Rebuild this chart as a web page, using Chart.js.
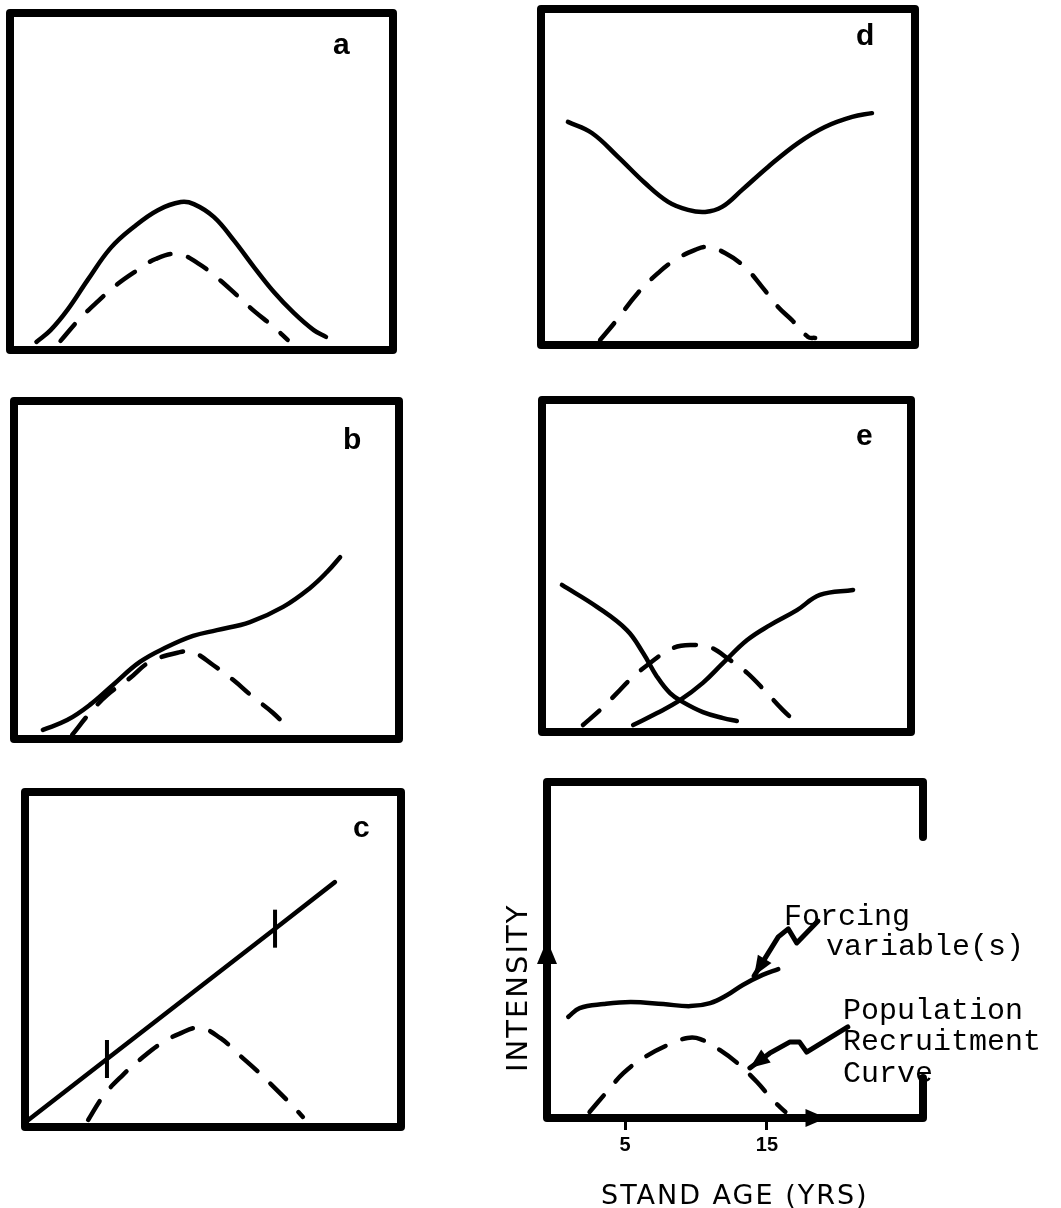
<!DOCTYPE html>
<html>
<head>
<meta charset="utf-8">
<title>Forcing variables vs. population recruitment</title>
<script src="https://cdn.jsdelivr.net/npm/chart.js@4.4.0/dist/chart.umd.min.js"></script>
<style>
  html, body { margin: 0; padding: 0; background: #fff; }
  body { width: 1061px; height: 1208px; position: relative; overflow: hidden; }
  canvas { position: absolute; }
  .lbl { position: absolute; line-height: 1; white-space: nowrap; color: #000; z-index: 2; }
  .letter { font: bold 30px "Liberation Sans", Arial, sans-serif; }
  .note { font: 30px "Liberation Mono", monospace; }
  .axis-title { font: 27px "DejaVu Sans", sans-serif; letter-spacing: 2px; }
  .rot { font-size: 29px; transform-origin: 0 0; transform: rotate(-90deg); }
</style>
</head>
<body>

<div class="lbl letter" style="left:333px; top:27px;">a</div>
<div class="lbl letter" style="left:343px; top:422px;">b</div>
<div class="lbl letter" style="left:353px; top:810px;">c</div>
<div class="lbl letter" style="left:856px; top:18px;">d</div>
<div class="lbl letter" style="left:856px; top:418px;">e</div>

<div class="lbl note" style="left:784px; top:900px;">Forcing</div>
<div class="lbl note" style="left:826px; top:930px;">variable(s)</div>
<div class="lbl note" style="left:843px; top:994px;">Population</div>
<div class="lbl note" style="left:843px; top:1025px;">Recruitment</div>
<div class="lbl note" style="left:843px; top:1057px;">Curve</div>

<div class="lbl axis-title" style="left:601px; top:1179px;">STAND AGE (YRS)</div>
<div class="lbl axis-title rot" style="left:500px; top:1072px;">INTENSITY</div>

<script>
// --- data (x and y as % of each panel box; key panel x in years) ---

// a: forcing peaks together with recruitment
const aSolidX = [6.9, 10.6, 15.0, 20.3, 26.3, 32.3, 38.6, 44.6, 48.0, 53.2, 58.4, 63.7, 68.9, 74.1, 79.3, 82.5];
const aSolidY = [2.4, 5.9, 11.9, 20.8, 30.3, 36.5, 41.5, 43.9, 43.3, 39.5, 32.6, 24.6, 17.2, 11.0, 5.9, 3.9];
const aDashX = [13.2, 18, 23, 28, 33, 38, 43.8, 49, 54, 59, 64, 68.5, 72.5];
const aDashY = [2.7, 9, 14.5, 19.5, 23.5, 27, 28.5, 25.8, 21.5, 16.5, 11.3, 7.2, 3.0];

// b: forcing keeps rising after the peak
const bSolidX = [7.5, 13.8, 19.7, 25.7, 32.7, 39.7, 46.5, 52.7, 61.3, 69.9, 76.9, 81.3, 84.7];
const bSolidY = [2.7, 5.6, 10.1, 16.0, 22.8, 27.2, 30.5, 32.2, 34.6, 39.1, 44.7, 49.4, 53.8];
const bDashX = [15.1, 19.7, 24.2, 30.1, 35.3, 43.1, 46.5, 51.7, 56.9, 62.1, 67.3, 72.2];
const bDashY = [1.2, 7.7, 13.0, 18.0, 22.8, 25.7, 25.7, 21.9, 17.5, 12.4, 7.7, 2.1];

// c: linear forcing with two thresholds
const cLineX = [0.8, 21.8, 66.5, 82.4];
const cLineY = [2.0, 20.3, 59.2, 73.1];
const cMarkX = [21.8, 66.5];
const cDashX = [16.8, 21, 26, 31, 36, 41, 46.5, 52, 57, 62, 67, 71, 73.9];
const cDashY = [2.1, 9.5, 15.5, 20.5, 24.8, 27.8, 29.6, 26.5, 21.5, 16.5, 11, 6.5, 3.0];

// d: forcing dips while recruitment peaks
const dSolidX = [7.2, 13.6, 20.6, 27.8, 34.0, 39.3, 43.9, 48.4, 53.7, 60.7, 68.7, 75.9, 83.2, 88.5];
const dSolidY = [66.4, 63.1, 56.0, 48.2, 42.6, 40.2, 39.6, 41.1, 46.1, 53.0, 60.1, 64.9, 67.9, 69.0];
const dDashX = [15.8, 19.8, 25.9, 31.3, 35.8, 41.2, 44.4, 49.2, 54.5, 59.1, 63.4, 67.1, 71.4, 73.3];
const dDashY = [1.5, 6.8, 15.5, 21.4, 25.3, 28.3, 29.2, 27.4, 23.2, 17.3, 11.3, 7.4, 2.4, 2.1];

// e: one factor falls, another rises
const eFallX = [5.4, 14.9, 23.0, 27.4, 31.2, 34.7, 38.2, 43.6, 49.1, 52.8];
const eFallY = [44.3, 37.7, 30.7, 23.8, 16.6, 11.7, 9.0, 6.0, 4.2, 3.3];
const eRiseX = [24.7, 31.2, 37.4, 43.6, 49.1, 55.6, 61.8, 69.1, 75.3, 84.3];
const eRiseY = [2.1, 5.7, 9.6, 14.8, 20.8, 27.7, 32.2, 36.7, 41.3, 42.8];
const eDashX = [11.1, 16.3, 20.3, 23.8, 29.3, 35.5, 40.9, 45.5, 50.9, 55.6, 61.0, 65.3, 69.1];
const eDashY = [2.1, 7.2, 11.7, 15.7, 20.8, 25.3, 26.2, 25.6, 21.7, 17.8, 11.7, 6.6, 2.7];

// key panel: stand age (years) vs intensity
const yearTicks = [5, 15];
const forcingX = [1.0, 1.8, 3.5, 5.4, 7.7, 9.6, 11.0, 12.2, 13.3, 14.7, 15.8];
const forcingY = [30.1, 32.7, 33.9, 34.5, 33.9, 33.3, 34.2, 36.6, 39.6, 42.6, 44.3];
const recruitX = [2.5, 3.7, 4.9, 6.3, 8.0, 9.4, 10.3, 11.7, 12.9, 14.3, 15.4, 16.3];
const recruitY = [1.8, 7.7, 13.4, 17.9, 21.7, 23.8, 23.5, 20.2, 16.4, 10.7, 5.4, 1.8];

// pointer squiggles from the text to the curves (years, intensity)
const forcingPointerX = [18.6, 17.1, 16.5, 15.8, 14.1];
const forcingPointerY = [58.6, 52.1, 56.3, 53.9, 42.3];
const recruitPointerX = [20.7, 17.8, 17.3, 16.6, 15.2, 13.8];
const recruitPointerY = [27.1, 19.6, 22.6, 22.6, 19.3, 14.9];

// --- drawing ---
const INK = '#000';
const PAD = 12;

const pts = (xs, ys) => xs.map((x, i) => ({ x: x, y: ys[i] }));

function solid(xs, ys) {
    return {
        data: pts(xs, ys),
        borderColor: INK,
        borderWidth: 4.5,
        borderCapStyle: 'round',
        pointRadius: 0,
        tension: 0.4,
        fill: false
    };
}

function dashed(xs, ys) {
    const ds = solid(xs, ys);
    ds.borderDash = [22, 18];
    return ds;
}

function addCanvas(left, top, width, height) {
    const c = document.createElement('canvas');
    c.width = width;
    c.height = height;
    c.style.left = left + 'px';
    c.style.top = top + 'px';
    c.style.width = width + 'px';
    c.style.height = height + 'px';
    document.body.appendChild(c);
    return c;
}

// heavy frame round the plot area
const boxFrame = {
    id: 'boxFrame',
    afterDatasetsDraw(chart) {
        const { ctx, chartArea: { left, right, top, bottom } } = chart;
        ctx.save();
        ctx.strokeStyle = INK;
        ctx.lineWidth = 8;
        ctx.lineJoin = 'round';
        ctx.strokeRect(left, top, right - left, bottom - top);
        ctx.restore();
    }
};

// box coords are line centres of the frame: [left, top, right, bottom]
const panels = [
    { box: [9.5, 13, 392, 350], sets: [solid(aSolidX, aSolidY), dashed(aDashX, aDashY)] },
    { box: [14, 401, 399, 739], sets: [solid(bSolidX, bSolidY), dashed(bDashX, bDashY)] },
    { box: [25, 792, 401, 1127], sets: [solid(cLineX, cLineY), dashed(cDashX, cDashY)] },
    { box: [541, 9, 915, 345], sets: [solid(dSolidX, dSolidY), dashed(dDashX, dDashY)] },
    { box: [542, 400, 911, 732], sets: [solid(eFallX, eFallY), solid(eRiseX, eRiseY), dashed(eDashX, eDashY)] }
];

// threshold ticks on the straight line of panel c
const cLine = panels[2].sets[0];
cLine.tension = 0;
cLine.pointStyle = 'line';
cLine.pointRotation = 90;
cLine.pointBorderColor = INK;
cLine.pointBorderWidth = 4;
cLine.pointRadius = cLineX.map(x => cMarkX.includes(x) ? 19 : 0);

panels.forEach(p => {
    const [l, t, r, b] = p.box;
    const w = Math.round(r - l) + 2 * PAD;
    const h = Math.round(b - t) + 2 * PAD;
    const cv = addCanvas(Math.round(l) - PAD, Math.round(t) - PAD, w, h);
    new Chart(cv.getContext('2d'), {
        type: 'line',
        data: { datasets: p.sets },
        options: {
            responsive: false,
            animation: false,
            events: [],
            layout: { padding: PAD },
            plugins: { legend: { display: false }, tooltip: { enabled: false } },
            scales: {
                x: { type: 'linear', display: false, min: 0, max: 100 },
                y: { type: 'linear', display: false, min: 0, max: 100 }
            }
        },
        plugins: [boxFrame]
    });
});

// --- key panel with axes, arrows and pointers ---
function arrowHead(ctx, x0, y0, x1, y1, len, half) {
    const a = Math.atan2(y1 - y0, x1 - x0);
    ctx.beginPath();
    ctx.moveTo(x1, y1);
    ctx.lineTo(x1 - len * Math.cos(a) + half * Math.sin(a), y1 - len * Math.sin(a) - half * Math.cos(a));
    ctx.lineTo(x1 - len * Math.cos(a) - half * Math.sin(a), y1 - len * Math.sin(a) + half * Math.cos(a));
    ctx.closePath();
    ctx.fill();
}

const keyFrame = {
    id: 'keyFrame',
    afterDatasetsDraw(chart, args, opts) {
        const { ctx, chartArea: { left, right, top, bottom }, scales: { x, y } } = chart;
        ctx.save();
        ctx.strokeStyle = INK;
        ctx.fillStyle = INK;
        ctx.lineWidth = 8;
        ctx.lineJoin = 'round';
        ctx.lineCap = 'round';

        // open frame: axes, top edge, two stubs on the right
        ctx.beginPath();
        ctx.moveTo(right, y.getPixelForValue(opts.stubTop));
        ctx.lineTo(right, top);
        ctx.lineTo(left, top);
        ctx.lineTo(left, bottom);
        ctx.lineTo(right, bottom);
        ctx.lineTo(right, y.getPixelForValue(opts.stubBottom));
        ctx.stroke();

        // arrowheads sitting on the axes
        arrowHead(ctx, left, y.getPixelForValue(opts.yArrow[0]), left, y.getPixelForValue(opts.yArrow[1]), 24, 10);
        arrowHead(ctx, x.getPixelForValue(opts.xArrow[0]), bottom, x.getPixelForValue(opts.xArrow[1]), bottom, 21, 9);

        // squiggle pointers
        ctx.lineWidth = 5;
        [[forcingPointerX, forcingPointerY], [recruitPointerX, recruitPointerY]].forEach(([xs, ys]) => {
            const px = xs.map(v => x.getPixelForValue(v));
            const py = ys.map(v => y.getPixelForValue(v));
            const n = px.length;
            ctx.beginPath();
            ctx.moveTo(px[0], py[0]);
            for (let i = 1; i < n; i++) ctx.lineTo(px[i], py[i]);
            ctx.stroke();
            arrowHead(ctx, px[n - 2], py[n - 2], px[n - 1], py[n - 1], 20, 8);
        });
        ctx.restore();
    }
};

const keyCanvas = addCanvas(490, 772, 445, 436);
new Chart(keyCanvas.getContext('2d'), {
    type: 'line',
    data: {
        datasets: [solid(forcingX, forcingY), dashed(recruitX, recruitY)]
    },
    options: {
        responsive: false,
        animation: false,
        events: [],
        layout: { padding: { left: 57, right: 12, top: 10, bottom: 0 } },
        plugins: {
            legend: { display: false },
            tooltip: { enabled: false },
            keyFrame: { stubTop: 83.6, stubBottom: 11.9, yArrow: [46.1, 53.0], xArrow: [17.8, 19.2] }
        },
        scales: {
            x: {
                type: 'linear',
                min: -0.5,
                max: 26,
                afterFit: s => { s.height = 90; },
                afterBuildTicks: s => { s.ticks = yearTicks.map(v => ({ value: v })); },
                ticks: {
                    color: INK,
                    padding: 3,
                    maxRotation: 0,
                    autoSkip: false,
                    font: { family: 'Liberation Sans', weight: 'bold', size: 20 }
                },
                grid: {
                    display: true,
                    drawOnChartArea: false,
                    drawTicks: true,
                    tickLength: 12,
                    tickWidth: 3,
                    color: INK
                },
                border: { display: false }
            },
            y: { type: 'linear', display: false, min: 0, max: 100 }
        }
    },
    plugins: [keyFrame]
});
</script>
</body>
</html>
